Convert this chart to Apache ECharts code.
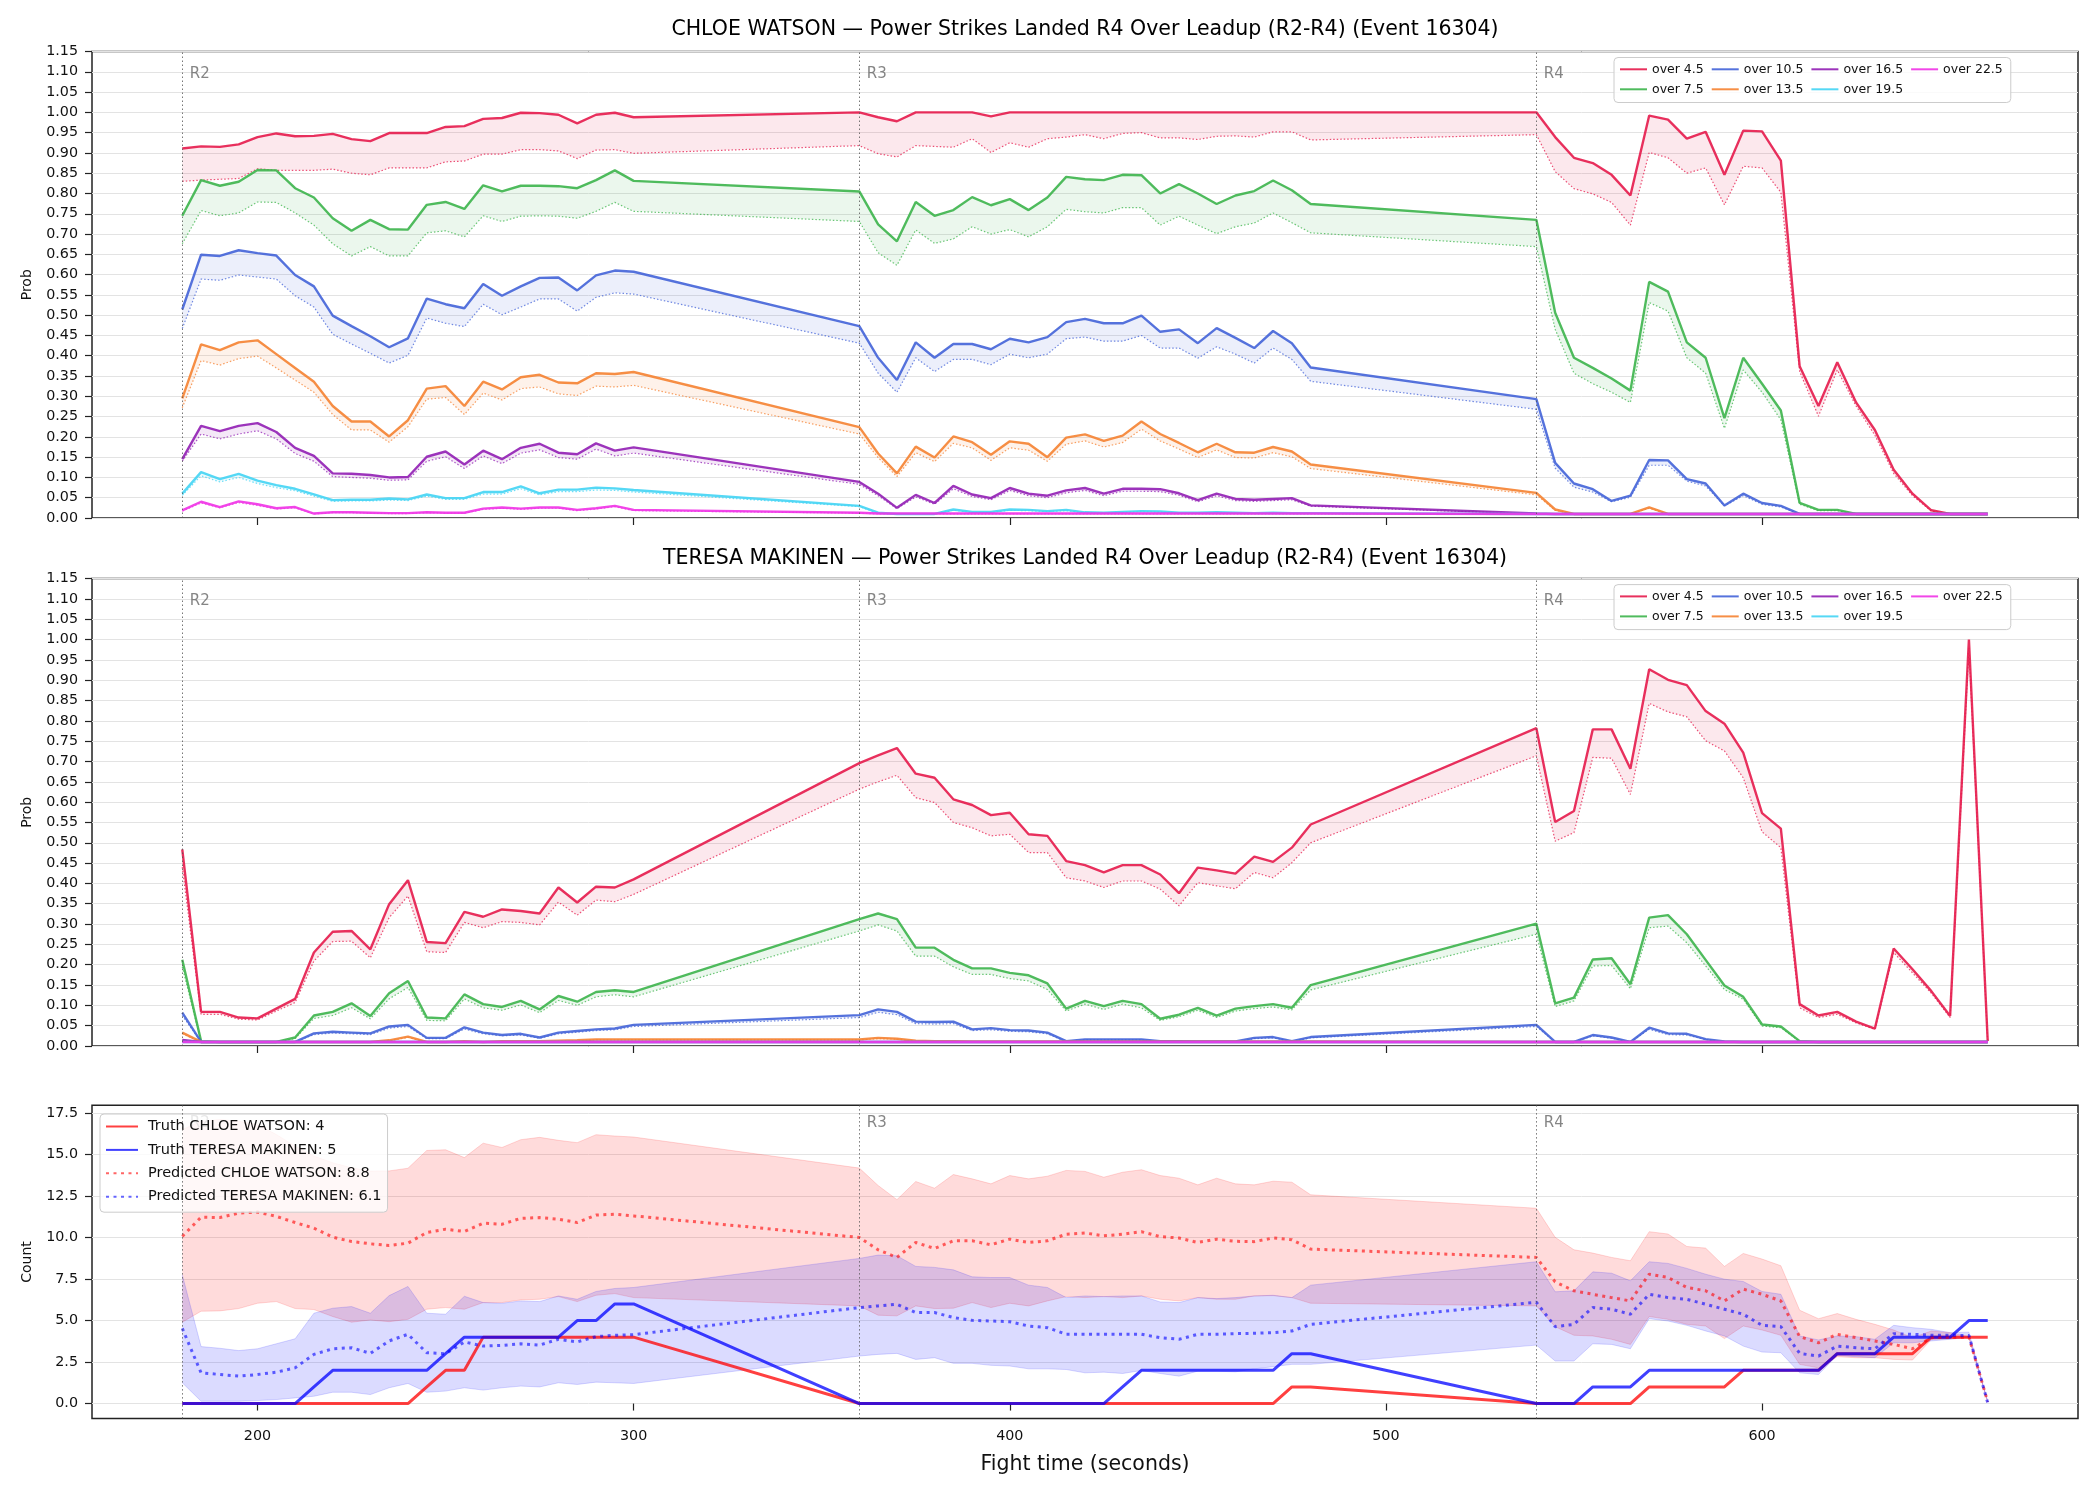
<!DOCTYPE html>
<html>
<head>
<meta charset="utf-8">
<script src="https://cdn.jsdelivr.net/npm/echarts@6/dist/echarts.min.js"></script>
<style>
  html, body { margin: 0; padding: 0; background: #fff; }
  #chart { width: 2100px; height: 1500px; }
</style>
</head>
<body>
<div id="chart"></div>
<script>
// fight time of each sample (first two minutes of R2, R3, R4)
const times = [
  180,185,190,195,200,205,210,215,220,225,230,235,240,245,250,255,260,265,270,275,280,285,290,295,300,
  360,365,370,375,380,385,390,395,400,405,410,415,420,425,430,435,440,445,450,455,460,465,470,475,480,
  540,545,550,555,560,565,570,575,580,585,590,595,600,605,610,615,620,625,630,635,640,645,650,655,660
];
const timeTicks = [200, 300, 400, 500, 600];
const countTicks = [0, 2.5, 5, 7.5, 10, 12.5, 15, 17.5];
const roundStarts = [180, 360, 540];
const roundLabels = ['R2', 'R3', 'R4'];
const thresholds = ['over 4.5', 'over 7.5', 'over 10.5', 'over 13.5', 'over 16.5', 'over 19.5', 'over 22.5'];
const colors = ['#e6194b', '#3cb44b', '#4363d8', '#f58231', '#911eb4', '#42d4f4', '#f032e6'];
const titles = [
  'CHLOE WATSON \u2014 Power Strikes Landed R4 Over Leadup (R2-R4) (Event 16304)',
  'TERESA MAKINEN \u2014 Power Strikes Landed R4 Over Leadup (R2-R4) (Event 16304)'
];

// ---- CHLOE WATSON: solid = prob, Lo = dotted lower line
const chloe45 = [
  .911,.916,.915,.921,.939,.948,.941,.942,.947,.934,.929,.949,.949,.949,.964,.966,.984,.986,.999,.998,.994,.973,.994,.999,.988,
  1,.988,.978,1,1,1,1,.990,1,1,1,1,1,1,1,1,1,1,1,1,1,1,1,1,1,
  1,.939,.888,.875,.846,.795,.992,.982,.935,.952,.846,.955,.953,.881,.374,.276,.384,.285,.217,.119,.060,.019,.010,.010,.010
];
const chloe45Lo = [
  .830,.833,.835,.837,.861,.857,.857,.857,.860,.850,.846,.863,.863,.863,.878,.880,.897,.897,.908,.908,.905,.886,.907,.908,.899,
  .918,.898,.890,.918,.916,.914,.935,.901,.925,.914,.935,.939,.945,.935,.948,.950,.937,.937,.933,.941,.942,.939,.952,.952,.932,
  .945,.854,.812,.799,.778,.722,.901,.888,.850,.863,.772,.867,.863,.803,.361,.251,.365,.276,.204,.110,.055,.017,.010,.010,.010
];
const chloe75 = [
  .745,.833,.819,.829,.858,.857,.813,.790,.739,.708,.735,.712,.711,.772,.779,.762,.820,.805,.819,.819,.818,.813,.833,.857,.831,
  .805,.724,.682,.779,.745,.759,.791,.771,.786,.759,.790,.841,.835,.833,.846,.845,.800,.823,.800,.774,.795,.806,.832,.808,.774,
  .735,.506,.395,.370,.344,.314,.582,.558,.433,.395,.246,.395,.331,.265,.037,.020,.020,.010,.010,.010,.010,.010,.010,.010,.010
];
const chloe75Lo = [
  .676,.758,.745,.752,.779,.778,.752,.722,.676,.646,.669,.646,.646,.703,.708,.693,.745,.731,.744,.745,.744,.739,.756,.778,.756,
  .731,.654,.623,.710,.677,.688,.718,.700,.711,.693,.718,.761,.755,.752,.765,.765,.722,.744,.722,.701,.718,.727,.752,.728,.703,
  .669,.465,.357,.331,.310,.285,.531,.510,.395,.357,.221,.365,.310,.242,.034,.018,.018,.010,.010,.010,.010,.010,.010,.010,.010
];
const chloe105 = [
  .514,.649,.646,.660,.653,.647,.599,.571,.499,.473,.448,.421,.443,.541,.527,.517,.577,.548,.571,.592,.593,.561,.598,.610,.607,
  .473,.395,.340,.433,.395,.429,.429,.416,.442,.433,.446,.483,.491,.480,.480,.499,.459,.465,.431,.468,.444,.419,.461,.431,.371,
  .293,.136,.085,.071,.042,.055,.143,.142,.096,.085,.031,.060,.037,.030,.010,.010,.010,.010,.010,.010,.010,.010,.010,.010,.010
];
const chloe105Lo = [
  .467,.589,.586,.599,.594,.589,.548,.520,.453,.429,.406,.382,.401,.493,.480,.472,.527,.501,.520,.540,.540,.510,.544,.555,.552,
  .431,.357,.310,.395,.361,.391,.391,.378,.404,.395,.404,.442,.446,.436,.436,.450,.419,.419,.394,.422,.404,.382,.419,.391,.337,
  .268,.123,.076,.064,.040,.051,.130,.130,.091,.079,.030,.055,.034,.027,.010,.010,.010,.010,.010,.010,.010,.010,.010,.010,.010
];
const chloe135 = [
  .295,.428,.414,.433,.438,.404,.370,.336,.276,.238,.238,.201,.241,.319,.325,.276,.336,.317,.347,.353,.334,.332,.357,.355,.360,
  .224,.159,.110,.176,.149,.201,.187,.156,.189,.183,.150,.198,.206,.190,.203,.238,.207,.185,.162,.183,.162,.161,.175,.164,.132,
  .062,.021,.010,.010,.010,.010,.026,.010,.010,.010,.010,.010,.010,.010,.010,.010,.010,.010,.010,.010,.010,.010,.010,.010,.010
];
const chloe135Lo = [
  .272,.388,.377,.393,.399,.370,.340,.310,.255,.217,.217,.187,.225,.293,.297,.255,.308,.291,.319,.323,.306,.302,.325,.323,.327,
  .207,.149,.102,.161,.139,.184,.173,.142,.173,.167,.140,.182,.190,.175,.186,.219,.190,.170,.149,.168,.149,.148,.161,.151,.122,
  .057,.019,.010,.010,.010,.010,.024,.010,.010,.010,.010,.010,.010,.010,.010,.010,.010,.010,.010,.010,.010,.010,.010,.010,.010
];
const chloe165 = [
  .145,.227,.214,.227,.234,.212,.173,.153,.110,.109,.106,.100,.101,.151,.164,.132,.166,.145,.173,.183,.161,.157,.184,.166,.174,
  .089,.060,.025,.057,.037,.079,.058,.049,.074,.060,.055,.068,.074,.060,.072,.072,.071,.061,.044,.060,.047,.045,.047,.049,.031,
  .011,.010,.010,.010,.010,.010,.010,.010,.010,.010,.010,.010,.010,.010,.010,.010,.010,.010,.010,.010,.010,.010,.010,.010,.010
];
const chloe165Lo = [
  .140,.207,.195,.207,.215,.195,.159,.140,.102,.100,.098,.093,.094,.140,.151,.122,.153,.134,.160,.168,.149,.145,.170,.153,.160,
  .083,.055,.023,.052,.034,.072,.053,.045,.068,.055,.050,.062,.068,.055,.066,.066,.065,.056,.040,.055,.043,.041,.043,.045,.029,
  .010,.010,.010,.010,.010,.010,.010,.010,.010,.010,.010,.010,.010,.010,.010,.010,.010,.010,.010,.010,.010,.010,.010,.010,.010
];
const chloe195 = [
  .060,.113,.096,.109,.092,.081,.072,.058,.044,.045,.045,.048,.046,.058,.049,.049,.064,.064,.078,.061,.070,.070,.075,.073,.069,
  .030,.013,.010,.010,.010,.021,.015,.015,.021,.020,.017,.020,.014,.013,.015,.017,.016,.013,.013,.014,.013,.012,.013,.012,.012,
  .010,.010,.010,.010,.010,.010,.010,.010,.010,.010,.010,.010,.010,.010,.010,.010,.010,.010,.010,.010,.010,.010,.010,.010,.010
];
const chloe195Lo = [
  .056,.104,.089,.100,.085,.075,.067,.054,.041,.042,.042,.044,.043,.054,.046,.046,.059,.059,.072,.057,.065,.065,.069,.068,.064,
  .028,.012,.010,.010,.010,.019,.014,.014,.019,.018,.016,.018,.013,.012,.014,.016,.015,.012,.012,.013,.012,.011,.012,.011,.011,
  .010,.010,.010,.010,.010,.010,.010,.010,.010,.010,.010,.010,.010,.010,.010,.010,.010,.010,.010,.010,.010,.010,.010,.010,.010
];
const chloe225 = [
  .019,.040,.027,.041,.034,.024,.027,.011,.014,.014,.013,.012,.012,.014,.013,.013,.023,.026,.023,.026,.026,.020,.024,.030,.020,
  .013,.011,.011,.011,.011,.011,.011,.011,.011,.011,.011,.011,.011,.011,.011,.011,.011,.011,.011,.011,.011,.011,.011,.011,.011,
  .010,.010,.010,.010,.010,.010,.010,.010,.010,.010,.010,.010,.010,.010,.010,.010,.010,.010,.010,.010,.010,.010,.010,.010,.010
];
const chloe225Lo = [
  .017,.037,.025,.038,.031,.022,.025,.010,.013,.013,.012,.011,.011,.013,.012,.012,.021,.024,.021,.024,.024,.018,.022,.028,.018,
  .012,.010,.010,.010,.010,.010,.010,.010,.010,.010,.010,.010,.010,.010,.010,.010,.010,.010,.010,.010,.010,.010,.010,.010,.010,
  .010,.010,.010,.010,.010,.010,.010,.010,.010,.010,.010,.010,.010,.010,.010,.010,.010,.010,.010,.010,.010,.010,.010,.010,.010
];

// ---- TERESA MAKINEN
const teresa45 = [
  .484,.084,.084,.070,.068,.092,.116,.230,.281,.283,.238,.349,.408,.256,.253,.330,.318,.336,.332,.326,.390,.353,.392,.390,.410,
  .696,.715,.733,.670,.660,.607,.593,.568,.574,.521,.517,.455,.445,.427,.445,.445,.422,.376,.439,.432,.424,.466,.453,.488,.545,
  .782,.551,.578,.779,.779,.682,.927,.901,.888,.824,.793,.722,.573,.535,.103,.075,.084,.060,.043,.240,.189,.135,.074,1.0,.012
];
const teresa45Lo = [
  .440,.078,.078,.066,.064,.086,.107,.209,.257,.258,.217,.316,.369,.232,.230,.304,.291,.306,.304,.298,.354,.322,.359,.355,.373,
  .632,.650,.666,.611,.599,.550,.537,.517,.521,.476,.476,.414,.406,.390,.406,.406,.386,.345,.402,.394,.387,.427,.414,.451,.500,
  .714,.504,.525,.710,.708,.619,.843,.822,.810,.751,.726,.660,.527,.488,.094,.070,.078,.057,.041,.230,.180,.130,.070,.980,.010
];
const teresa75 = [
  .212,.012,.010,.010,.010,.010,.021,.075,.084,.105,.074,.130,.160,.070,.068,.127,.103,.096,.111,.090,.123,.109,.133,.137,.133,
  .312,.326,.312,.242,.242,.212,.191,.191,.180,.174,.154,.092,.111,.098,.111,.103,.067,.077,.094,.075,.092,.098,.103,.094,.150,
  .301,.105,.119,.213,.216,.152,.316,.322,.275,.212,.149,.121,.053,.048,.012,.010,.010,.010,.010,.010,.010,.010,.010,.010,.010
];
const teresa75Lo = [
  .195,.011,.010,.010,.010,.010,.018,.068,.075,.094,.067,.116,.144,.063,.062,.116,.094,.088,.101,.082,.112,.100,.121,.126,.121,
  .283,.298,.283,.221,.221,.195,.176,.176,.166,.160,.139,.086,.103,.090,.103,.094,.063,.072,.088,.070,.086,.092,.096,.089,.138,
  .275,.097,.111,.197,.198,.141,.291,.295,.254,.197,.139,.115,.049,.045,.011,.010,.010,.010,.010,.010,.010,.010,.010,.010,.010
];
const teresa105 = [
  .082,.010,.010,.010,.010,.010,.010,.031,.035,.033,.031,.048,.052,.020,.020,.046,.033,.027,.030,.021,.033,.037,.041,.043,.052,
  .076,.090,.084,.060,.059,.060,.041,.044,.039,.038,.033,.012,.016,.016,.016,.016,.012,.012,.011,.011,.011,.020,.022,.012,.022,
  .052,.010,.010,.027,.021,.010,.045,.031,.030,.017,.011,.010,.010,.010,.010,.010,.010,.010,.010,.010,.010,.010,.010,.010,.010
];
const teresa105Lo = [
  .075,.010,.010,.010,.010,.010,.010,.028,.032,.030,.028,.044,.048,.018,.018,.042,.030,.025,.027,.019,.030,.034,.038,.040,.048,
  .070,.083,.077,.055,.054,.055,.038,.040,.036,.035,.030,.011,.015,.015,.015,.015,.011,.011,.010,.010,.010,.018,.020,.011,.020,
  .048,.010,.010,.025,.019,.010,.041,.028,.027,.016,.010,.010,.010,.010,.010,.010,.010,.010,.010,.010,.010,.010,.010,.010,.010
];
const teresa135 = [
  .033,.010,.010,.010,.010,.010,.010,.010,.010,.010,.010,.014,.023,.010,.010,.012,.010,.012,.012,.012,.013,.014,.016,.016,.016,
  .016,.020,.018,.013,.012,.012,.011,.011,.011,.011,.011,.011,.011,.011,.011,.011,.011,.011,.011,.011,.011,.011,.011,.011,.011,
  .010,.010,.010,.010,.010,.010,.010,.010,.010,.010,.010,.010,.010,.010,.010,.010,.010,.010,.010,.010,.010,.010,.010,.010,.010
];
const teresa135Lo = [
  .030,.010,.010,.010,.010,.010,.010,.010,.010,.010,.010,.013,.021,.010,.010,.011,.010,.011,.011,.011,.012,.013,.015,.015,.015,
  .015,.018,.017,.012,.011,.010,.010,.010,.010,.010,.010,.010,.010,.010,.010,.010,.010,.010,.010,.010,.010,.010,.010,.010,.010,
  .010,.010,.010,.010,.010,.010,.010,.010,.010,.010,.010,.010,.010,.010,.010,.010,.010,.010,.010,.010,.010,.010,.010,.010,.010
];
const teresa165 = [
  .015,.010,.010,.010,.010,.010,.010,.010,.010,.010,.010,.010,.010,.010,.010,.010,.010,.010,.010,.010,.010,.010,.010,.010,.010,
  .010,.010,.010,.010,.010,.010,.010,.010,.010,.010,.010,.010,.010,.010,.010,.010,.010,.010,.010,.010,.010,.010,.010,.010,.010,
  .010,.010,.010,.010,.010,.010,.010,.010,.010,.010,.010,.010,.010,.010,.010,.010,.010,.010,.010,.010,.010,.010,.010,.010,.010
];
const teresa165Lo = [
  .014,.010,.010,.010,.010,.010,.010,.010,.010,.010,.010,.010,.010,.010,.010,.010,.010,.010,.010,.010,.010,.010,.010,.010,.010,
  .010,.010,.010,.010,.010,.010,.010,.010,.010,.010,.010,.010,.010,.010,.010,.010,.010,.010,.010,.010,.010,.010,.010,.010,.010,
  .010,.010,.010,.010,.010,.010,.010,.010,.010,.010,.010,.010,.010,.010,.010,.010,.010,.010,.010,.010,.010,.010,.010,.010,.010
];
const teresa195 = [
  .010,.010,.010,.010,.010,.010,.010,.010,.010,.010,.010,.010,.010,.010,.010,.010,.010,.010,.010,.010,.010,.010,.010,.010,.010,
  .010,.010,.010,.010,.010,.010,.010,.010,.010,.010,.010,.010,.010,.010,.010,.010,.010,.010,.010,.010,.010,.010,.010,.010,.010,
  .010,.010,.010,.010,.010,.010,.010,.010,.010,.010,.010,.010,.010,.010,.010,.010,.010,.010,.010,.010,.010,.010,.010,.010,.010
];
const teresa195Lo = [
  .010,.010,.010,.010,.010,.010,.010,.010,.010,.010,.010,.010,.010,.010,.010,.010,.010,.010,.010,.010,.010,.010,.010,.010,.010,
  .010,.010,.010,.010,.010,.010,.010,.010,.010,.010,.010,.010,.010,.010,.010,.010,.010,.010,.010,.010,.010,.010,.010,.010,.010,
  .010,.010,.010,.010,.010,.010,.010,.010,.010,.010,.010,.010,.010,.010,.010,.010,.010,.010,.010,.010,.010,.010,.010,.010,.010
];
const teresa225 = [
  .010,.010,.010,.010,.010,.010,.010,.010,.010,.010,.010,.010,.010,.010,.010,.010,.010,.010,.010,.010,.010,.010,.010,.010,.010,
  .010,.010,.010,.010,.010,.010,.010,.010,.010,.010,.010,.010,.010,.010,.010,.010,.010,.010,.010,.010,.010,.010,.010,.010,.010,
  .010,.010,.010,.010,.010,.010,.010,.010,.010,.010,.010,.010,.010,.010,.010,.010,.010,.010,.010,.010,.010,.010,.010,.010,.010
];
const teresa225Lo = [
  .010,.010,.010,.010,.010,.010,.010,.010,.010,.010,.010,.010,.010,.010,.010,.010,.010,.010,.010,.010,.010,.010,.010,.010,.010,
  .010,.010,.010,.010,.010,.010,.010,.010,.010,.010,.010,.010,.010,.010,.010,.010,.010,.010,.010,.010,.010,.010,.010,.010,.010,
  .010,.010,.010,.010,.010,.010,.010,.010,.010,.010,.010,.010,.010,.010,.010,.010,.010,.010,.010,.010,.010,.010,.010,.010,.010
];

// ---- counts panel
const truthChloe = [
  0,0,0,0,0,0,0,0,0,0,0,0,0,1,2,2,4,4,4,4,4,4,4,4,4,
  0,0,0,0,0,0,0,0,0,0,0,0,0,0,0,0,0,0,0,0,0,0,0,1,1,
  0,0,0,0,0,0,1,1,1,1,1,2,2,2,2,2,3,3,3,3,3,4,4,4,4
];
const truthTeresa = [
  0,0,0,0,0,0,0,1,2,2,2,2,2,2,3,4,4,4,4,4,4,5,5,6,6,
  0,0,0,0,0,0,0,0,0,0,0,0,0,0,1,2,2,2,2,2,2,2,2,3,3,
  0,0,0,1,1,1,2,2,2,2,2,2,2,2,2,2,3,3,3,4,4,4,4,5,5
];
const predChloe = [
  10.07,11.22,11.2,11.47,11.53,11.27,10.9,10.56,10.02,9.76,9.62,9.52,9.66,10.3,10.5,10.36,10.86,10.8,11.15,11.2,11.1,10.9,11.35,11.4,11.3,
  10.0,9.26,8.8,9.7,9.34,9.8,9.8,9.56,9.9,9.7,9.8,10.2,10.27,10.1,10.2,10.35,10.05,9.97,9.7,9.9,9.77,9.75,9.97,9.87,9.3,
  8.8,7.33,6.79,6.58,6.38,6.18,7.79,7.59,6.99,6.79,6.18,6.89,6.58,6.18,4.03,3.66,4.17,3.97,3.77,3.56,3.3,3.97,4.0,4.0,0.1
];
const predTeresa = [
  4.53,1.85,1.75,1.65,1.75,1.89,2.15,2.96,3.3,3.36,3.02,3.77,4.17,3.06,3.0,3.71,3.46,3.5,3.6,3.52,3.87,3.71,4.03,4.11,4.15,
  5.78,5.88,5.98,5.48,5.48,5.18,5.01,4.97,4.93,4.67,4.57,4.17,4.17,4.17,4.17,4.17,3.97,3.87,4.17,4.17,4.21,4.23,4.27,4.37,4.77,
  6.1,4.63,4.77,5.78,5.68,5.38,6.58,6.38,6.28,5.98,5.68,5.38,4.71,4.63,3.02,2.86,3.46,3.36,3.3,4.21,4.17,4.11,4.11,4.1,0.05
];
const chloeBandHi = [
  16.5,17.0,17.1,17.0,16.8,16.2,15.5,14.9,14.5,14.2,14.0,14.01,14.17,15.24,15.28,14.81,15.68,15.42,15.89,16.03,15.85,15.71,16.19,16.11,16.05,
  14.18,13.13,12.28,13.37,12.97,13.79,13.53,13.23,13.73,13.53,13.69,14.04,13.98,13.63,13.93,14.08,13.73,13.57,13.17,13.57,13.23,13.17,13.39,13.33,12.57,
  11.76,10.01,9.26,9.06,8.8,8.6,10.35,10.21,9.46,9.36,8.26,9.04,8.7,8.3,5.62,5.11,5.42,5.07,4.77,4.43,3.97,4.37,4.27,4.03,0.1
];
const chloeBandLo = [
  4.9,5.56,5.58,5.72,6.04,6.14,5.72,5.66,5.24,4.9,5.03,4.93,5.07,5.68,5.78,5.68,6.08,6.08,6.24,6.28,6.44,6.14,6.52,6.62,6.38,
  5.88,5.32,5.28,5.88,5.72,5.74,6.08,5.78,6.04,5.88,6.18,6.44,6.38,6.44,6.38,6.48,6.28,6.18,6.38,6.28,6.28,6.48,6.5,6.38,6.04,
  5.88,4.63,4.11,4.07,3.87,3.56,5.24,5.07,4.77,4.67,3.91,4.67,4.43,4.11,2.36,2.15,2.82,2.76,2.76,2.66,2.62,3.85,3.9,3.95,0.1
];
const teresaBandHi = [
  7.75,3.43,3.33,3.19,3.3,3.6,3.9,5.44,5.74,5.84,5.44,6.5,7.05,5.44,5.38,6.46,6.08,6.04,6.18,6.14,6.48,6.28,6.75,6.93,6.99,
  8.74,8.94,8.9,8.26,8.2,8.05,7.63,7.59,7.59,7.13,6.99,6.38,6.48,6.44,6.48,6.48,6.12,6.08,6.38,6.32,6.38,6.48,6.52,6.38,7.13,
  8.54,6.73,6.79,7.93,7.85,7.39,8.54,8.44,8.14,7.79,7.49,7.35,6.75,6.58,4.07,3.83,4.07,4.03,3.87,4.71,4.57,4.47,4.27,4.3,0.1
];
const teresaBandLo = [
  1.25,0.14,0.14,0.14,0.18,0.24,0.34,0.44,0.68,0.68,0.54,0.95,1.21,0.68,0.75,0.95,0.81,0.95,1.05,1.0,1.25,1.15,1.29,1.25,1.21,
  2.86,2.96,3.02,2.66,2.76,2.42,2.42,2.3,2.26,2.09,2.09,2.05,1.85,1.89,1.81,1.99,1.81,1.65,1.95,1.95,1.91,2.09,2.22,2.36,2.36,
  3.52,2.56,2.56,3.6,3.56,3.3,5.11,4.97,4.71,4.37,4.07,3.46,3.1,3.06,1.85,1.75,2.9,2.82,2.76,3.66,3.66,3.77,3.87,4.0,0.1
];

const chloeHi = [chloe45, chloe75, chloe105, chloe135, chloe165, chloe195, chloe225];
const chloeLo = [chloe45Lo, chloe75Lo, chloe105Lo, chloe135Lo, chloe165Lo, chloe195Lo, chloe225Lo];
const teresaHi = [teresa45, teresa75, teresa105, teresa135, teresa165, teresa195, teresa225];
const teresaLo = [teresa45Lo, teresa75Lo, teresa105Lo, teresa135Lo, teresa165Lo, teresa195Lo, teresa225Lo];

const FONT = 'DejaVu Sans';
const pairs = ys => times.map((t, i) => [t, ys[i]]);

// fill between two curves, drawn once as a polygon through the axis scales
function band(g, hi, lo, color, opacity, edgeOpacity) {
  return {
    type: 'custom', xAxisIndex: g, yAxisIndex: g, silent: true, z: 1,
    data: times.map((t, i) => [t, hi[i], lo[i]]),
    encode: { x: 0, y: [1, 2] },
    renderItem: (params, api) => {
      if (params.dataIndex !== 0) return null;
      const top = times.map((t, i) => api.coord([t, hi[i]]));
      const bottom = times.map((t, i) => api.coord([t, lo[i]]));
      const children = [{
        type: 'polygon', shape: { points: top.concat(bottom.slice().reverse()) },
        style: { fill: color, opacity }
      }];
      if (edgeOpacity) {
        [top, bottom].forEach(pts => children.push({
          type: 'polyline', shape: { points: pts },
          style: { fill: null, stroke: color, lineWidth: 1, opacity: edgeOpacity }
        }));
      }
      return { type: 'group', children };
    }
  };
}

const grids = [
  { left: 92, right: 22, top: 51.5, height: 466.5 },
  { left: 92, right: 22, top: 578.6, height: 467.4 },
  { left: 92, right: 22, top: 1105.3, height: 313.3 }
].map(g => Object.assign(g, { show: true, borderColor: '#222', borderWidth: 1.5 }));

const tickStyle = { length: 7, lineStyle: { color: '#222', width: 1.2 } };
const labelFont = { fontSize: 14.3, color: '#111', fontFamily: FONT };

const xAxes = [0, 1, 2].map(g => ({
  type: 'value', gridIndex: g, min: 156, max: 684,
  axisLine: { show: false },
  axisTick: Object.assign({ show: true, customValues: timeTicks }, tickStyle),
  axisLabel: Object.assign({ show: g === 2, customValues: timeTicks, margin: 11 }, labelFont),
  splitLine: { show: false },
  name: g === 2 ? 'Fight time (seconds)' : '',
  nameLocation: 'middle', nameGap: 36,
  nameTextStyle: { fontSize: 20.5, fontFamily: FONT, color: '#111' }
}));

const yAxes = [0, 1].map(g => ({
  type: 'value', gridIndex: g, min: 0, max: 1.15, interval: 0.05,
  axisLine: { show: false },
  axisTick: tickStyle,
  axisLabel: Object.assign({ margin: 14, formatter: v => v.toFixed(2) }, labelFont),
  splitLine: { show: true, lineStyle: { color: '#e3e3e3', width: 1 } },
  name: 'Prob', nameLocation: 'middle', nameGap: 58,
  nameTextStyle: { fontSize: 14, fontFamily: FONT, color: '#111' }
}));
yAxes.push({
  type: 'value', gridIndex: 2, min: -0.906, max: 17.96,
  axisLine: { show: false },
  axisTick: Object.assign({ customValues: countTicks }, tickStyle),
  axisLabel: Object.assign({ margin: 14, customValues: countTicks, formatter: v => v.toFixed(1) }, labelFont),
  splitLine: { show: true, lineStyle: { color: '#e3e3e3', width: 1 } },
  name: 'Count', nameLocation: 'middle', nameGap: 58,
  nameTextStyle: { fontSize: 14, fontFamily: FONT, color: '#111' }
});

const series = [];

// probability panels: light fill, dotted lower line, solid line
[[chloeHi, chloeLo], [teresaHi, teresaLo]].forEach(([hi, lo], g) => {
  thresholds.forEach((name, k) => {
    const c = colors[k];
    series.push(band(g, hi[k], lo[k], c, 0.1, 0));
    series.push({
      type: 'line', name: name + ' lower', xAxisIndex: g, yAxisIndex: g,
      data: pairs(lo[k]), symbol: 'none', silent: true, z: 2,
      lineStyle: { color: c, width: 1.2, type: [1.5, 2], opacity: 0.75 }, itemStyle: { color: c }
    });
    series.push({
      type: 'line', name, xAxisIndex: g, yAxisIndex: g,
      data: pairs(hi[k]), symbol: 'none', silent: true, z: 3,
      lineStyle: { color: c, width: 2.4, opacity: 0.9 }, itemStyle: { color: c }
    });
  });
});

// counts panel: bands, truth, prediction
series.push(band(2, chloeBandHi, chloeBandLo, 'red', 0.14, 0.15));
series.push(band(2, teresaBandHi, teresaBandLo, 'blue', 0.14, 0.15));
const countNames = ['Truth CHLOE WATSON: 4', 'Truth TERESA MAKINEN: 5', 'Predicted CHLOE WATSON: 8.8', 'Predicted TERESA MAKINEN: 6.1'];
[[truthChloe, 'red'], [truthTeresa, 'blue']].forEach(([d, c], i) => {
  series.push({
    type: 'line', name: countNames[i], xAxisIndex: 2, yAxisIndex: 2,
    data: pairs(d), symbol: 'none', silent: true, z: 3,
    lineStyle: { color: c, width: 3, opacity: 0.75 }, itemStyle: { color: c }
  });
});
[[predChloe, 'red'], [predTeresa, 'blue']].forEach(([d, c], i) => {
  series.push({
    type: 'line', name: countNames[i + 2], xAxisIndex: 2, yAxisIndex: 2,
    data: pairs(d), symbol: 'none', silent: true, z: 3,
    lineStyle: { color: c, width: 3, type: [3, 4.5], opacity: 0.6 }, itemStyle: { color: c }
  });
});

// round markers
const roundLabelY = [1.095, 1.095, 16.9];
[0, 1, 2].forEach(g => {
  series.push({
    type: 'scatter', name: 'rounds ' + g, xAxisIndex: g, yAxisIndex: g, silent: true, z: 1,
    data: roundStarts.map(t => [t, roundLabelY[g]]),
    symbolSize: 1, itemStyle: { color: 'rgba(0,0,0,0)' },
    label: { show: true, position: 'right', distance: 7, formatter: p => roundLabels[p.dataIndex],
             color: '#666', fontSize: 15, fontFamily: FONT },
    markLine: {
      silent: true, symbol: 'none', label: { show: false },
      lineStyle: { color: '#555', width: 1, type: [1.5, 2.5], opacity: 0.8 },
      data: roundStarts.map(t => ({ xAxis: t }))
    }
  });
});

const probLegend = top => ({
  orient: 'vertical', left: 1614, top, height: 40, selectedMode: false,
  padding: [5.3, 8, 6.7, 5], itemGap: 7, itemWidth: 27, itemHeight: 12,
  backgroundColor: 'rgba(255,255,255,0.8)', borderColor: '#cccccc', borderWidth: 1, borderRadius: 4,
  itemStyle: { opacity: 0 },
  textStyle: { fontSize: 12.5, fontFamily: FONT, color: '#111' },
  data: thresholds.map((n, k) => ({ name: n, textStyle: { width: k < 2 ? 74 : 81 } }))
});

const option = {
  animation: false,
  backgroundColor: '#fff',
  grid: grids,
  xAxis: xAxes,
  yAxis: yAxes,
  legend: [
    probLegend(57.5),
    probLegend(584.6),
    {
      orient: 'vertical', left: 100, top: 1114, selectedMode: false,
      padding: [5, 6, 8, 5], itemGap: 8.4, itemWidth: 32, itemHeight: 14,
      backgroundColor: 'rgba(255,255,255,0.8)', borderColor: '#cccccc', borderWidth: 1, borderRadius: 4,
      itemStyle: { opacity: 0 },
      textStyle: { fontSize: 14.5, fontFamily: FONT, color: '#111', padding: [0, 0, 0, 5] },
      data: countNames
    }
  ],
  graphic: [
    { type: 'text', x: 1085, y: 30, style: { text: titles[0], fontSize: 20.5, fontFamily: FONT, fill: '#000', align: 'center', verticalAlign: 'middle' } },
    { type: 'text', x: 1085, y: 559, style: { text: titles[1], fontSize: 20.5, fontFamily: FONT, fill: '#000', align: 'center', verticalAlign: 'middle' } }
  ],
  series
};

const chart = echarts.init(document.getElementById('chart'));
chart.setOption(option);
</script>
</body>
</html>
